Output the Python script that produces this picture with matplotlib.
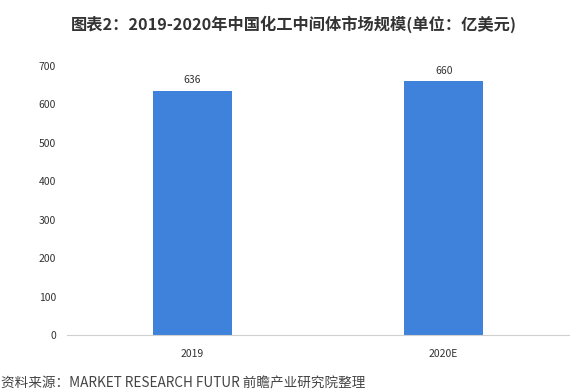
import matplotlib.pyplot as plt

plt.rcParams['font.family'] = ['Noto Sans CJK SC', 'DejaVu Sans']

# Data.
years = ["2019", "2020E"]
sizes = [636, 660]
y_ticks = [0, 100, 200, 300, 400, 500, 600, 700]

fig = plt.figure(figsize=(5.88, 3.92), dpi=100)
ax = fig.add_axes([0.114, 0.1454, 0.854, 0.6862])

bars = ax.bar(years, sizes, width=0.315, color="#3f82dc")
for rect, v in zip(bars, sizes):
    ax.text(rect.get_x() + rect.get_width() / 2, v + 14, str(v),
            ha="center", va="bottom", fontsize=7.5, color="#333333")

ax.set_xlim(-0.5, 1.5)
ax.set_ylim(0, 700)
ax.set_yticks(y_ticks)
ax.tick_params(axis="both", length=0, labelsize=7.5, colors="#333333")
ax.tick_params(axis="x", pad=10)
ax.tick_params(axis="y", pad=8)
for side in ["top", "right", "left"]:
    ax.spines[side].set_visible(False)
ax.spines["bottom"].set_color("#d0d0d0")

fig.text(0.5, 0.938, "图表2：2019-2020年中国化工中间体市场规模(单位：亿美元)",
         ha="center", va="center", fontsize=11.7, fontweight="bold", color="#333333")
# source line; the reference clips it at the bottom edge, kept just inside here
fig.text(0.002, 0.004, "资料来源：MARKET RESEARCH FUTUR 前瞻产业研究院整理",
         ha="left", va="bottom", fontsize=9.8, color="#444444")

fig.savefig("out.png", dpi=100)
